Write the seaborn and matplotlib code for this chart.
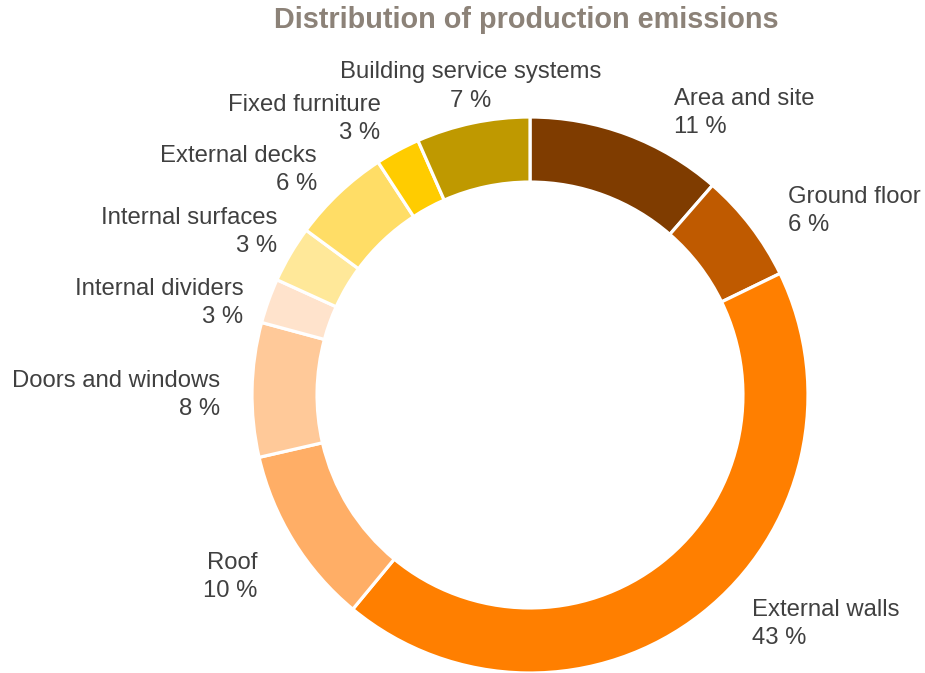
import numpy as np
import matplotlib
matplotlib.use("Agg")
import matplotlib.pyplot as plt
import seaborn as sns

categories = ["Area and site", "Ground floor", "External walls", "Roof",
              "Doors and windows", "Internal dividers", "Internal surfaces",
              "External decks", "Fixed furniture", "Building service systems"]
values = [11.4, 6.4, 43.2, 10.4, 7.8, 2.6, 3.3, 5.7, 2.6, 6.6]
colors = ["#7F3C00", "#BF5A00", "#FF7F00", "#FFAE66", "#FFC999",
          "#FFE3CC", "#FFE899", "#FFDD66", "#FFCC00", "#BF9900"]
title = "Distribution of production emissions"

# label angle nudges (degrees) and radii for layout only
nudges = [6.5, 2, -6, -2, -1, -2, 2.4, 0, 0, 1]
label_r = [1.137, 1.14, 1.147, 1.18, 1.115, 1.083, 1.083, 1.115, 1.13, 1.13]

sns.set_theme(style="white")
plt.rcParams['font.family'] = ['Liberation Sans', 'DejaVu Sans']

W, H = 925, 673
cx, cy, R = 530, 395, 278
fig = plt.figure(figsize=(W / 100, H / 100), dpi=100)
ax = fig.add_axes([0, 0, 1, 1])

pal = sns.color_palette(colors)
wedges, _ = ax.pie(values, colors=pal, startangle=90, counterclock=False,
                   radius=1, center=(0, 0), frame=True,
                   wedgeprops=dict(width=0.234, edgecolor="white", linewidth=2.3))
ax.set_xlim(-cx / R, (W - cx) / R)
ax.set_ylim(-(H - cy) / R, cy / R)
ax.axis("off")

total = sum(values)
cum = 0
for i, (cat, v) in enumerate(zip(categories, values)):
    mid = (cum + v / 2) / total * 360
    cum += v
    a = np.deg2rad(mid + nudges[i])
    x = label_r[i] * np.sin(a)
    y = label_r[i] * np.cos(a)
    if x > 0.3:
        ha = "left"
    elif x < -0.3:
        ha = "right"
    else:
        ha = "center"
    ax.text(x, y, f"{cat}\n{round(v):d} %", ha=ha, va="center",
            multialignment=ha, fontsize=17.2, color="#404040", linespacing=1.36)

fig.text(526 / W, 1 - 20 / H, title, ha="center", va="center", fontsize=20.8,
         fontweight="bold", color="#8C8278")

fig.savefig("out.png", dpi=100)
